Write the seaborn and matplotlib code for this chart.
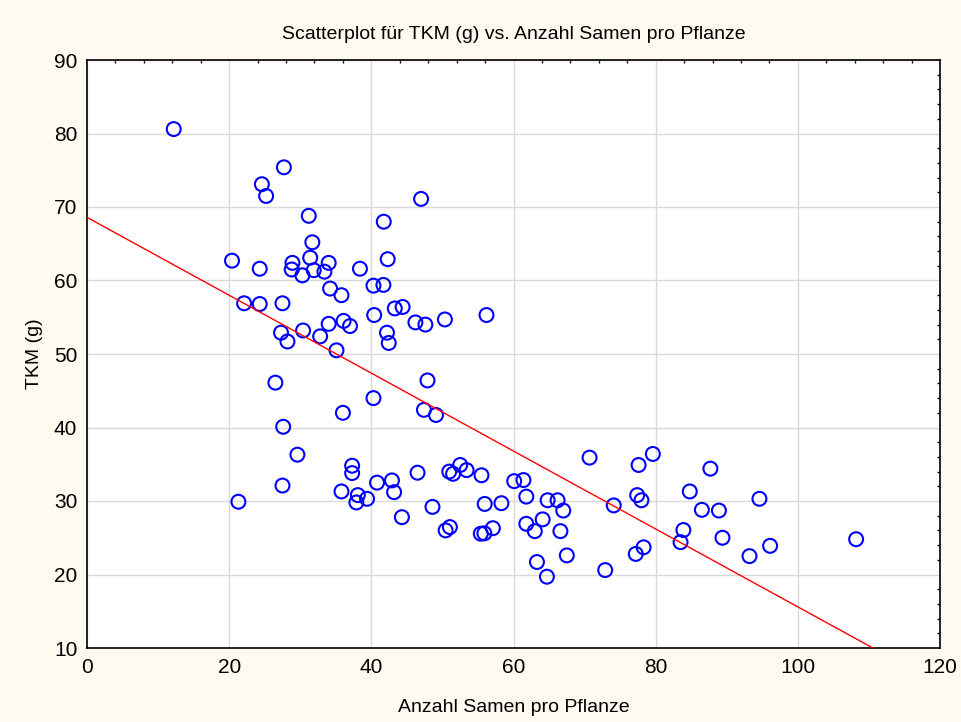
import numpy as np
import pandas as pd
import matplotlib
matplotlib.use("Agg")
import matplotlib.pyplot as plt
import seaborn as sns
from matplotlib.ticker import MultipleLocator

# Anzahl Samen pro Pflanze (x) und TKM in g (y)
samen = [12.2, 27.7, 24.6, 25.2, 31.2, 31.7, 20.4, 31.4, 24.3, 28.9,
         28.8, 30.3, 31.9, 33.4, 34.0, 34.2, 35.8, 22.1, 24.3, 27.5,
         34.0, 36.1, 37.0, 27.3, 28.2, 30.4, 32.8, 35.1, 47.0, 41.75,
         38.4, 42.3, 40.3, 41.7, 40.4, 43.3, 44.4, 46.2, 47.6, 50.35,
         56.2, 42.2, 42.45, 26.5, 40.3, 36.0, 27.6, 29.6, 37.3, 37.3,
         27.5, 40.8, 42.9, 43.2, 35.8, 38.1, 37.9, 39.4, 21.3, 44.3,
         47.9, 47.4, 49.1, 70.7, 46.5, 50.96, 51.5, 52.5, 53.4, 55.5,
         60.1, 61.4, 61.8, 55.95, 58.3, 64.8, 66.2, 67.0, 74.1, 48.6,
         50.45, 51.05, 55.4, 55.9, 57.1, 61.8, 64.1, 63.0, 66.6, 63.3,
         64.7, 67.5, 72.9, 79.6, 77.6, 87.7, 84.8, 77.4, 78.0, 94.6,
         86.5, 88.9, 83.9, 83.5, 89.4, 96.1, 108.2, 93.2, 78.3, 77.2]
tkm = [80.6, 75.4, 73.1, 71.5, 68.8, 65.2, 62.7, 63.1, 61.6, 62.4,
       61.5, 60.7, 61.4, 61.2, 62.4, 58.9, 58.0, 56.9, 56.8, 56.9,
       54.1, 54.5, 53.8, 52.9, 51.7, 53.2, 52.4, 50.5, 71.1, 68.0,
       61.6, 62.9, 59.3, 59.4, 55.3, 56.2, 56.4, 54.3, 54.0, 54.7,
       55.3, 52.9, 51.5, 46.1, 44.0, 42.0, 40.1, 36.3, 34.8, 33.8,
       32.1, 32.5, 32.8, 31.2, 31.3, 30.8, 29.8, 30.3, 29.9, 27.8,
       46.4, 42.4, 41.7, 35.9, 33.85, 34.0, 33.7, 34.9, 34.2, 33.5,
       32.7, 32.85, 30.6, 29.6, 29.7, 30.1, 30.1, 28.7, 29.4, 29.2,
       26.0, 26.45, 25.55, 25.6, 26.3, 26.9, 27.5, 25.9, 25.9, 21.7,
       19.7, 22.6, 20.6, 36.4, 34.9, 34.4, 31.3, 30.8, 30.1, 30.3,
       28.8, 28.7, 26.05, 24.4, 25.0, 23.9, 24.8, 22.5, 23.7, 22.8]

df = pd.DataFrame({"Samen": samen, "TKM": tkm})

sns.set_style("white")
plt.rcParams["font.family"] = ["Liberation Sans", "DejaVu Sans"]
plt.rcParams["text.color"] = "black"
plt.rcParams["axes.labelcolor"] = "black"
plt.rcParams["xtick.color"] = "black"
plt.rcParams["ytick.color"] = "black"

fig = plt.figure(figsize=(9.62, 7.22), dpi=100, facecolor="#FFFAF0")
ax = fig.add_axes([87 / 962, 1 - 648 / 722, (940 - 87) / 962, (648 - 60) / 722])
ax.set_facecolor("white")

ax.set_xlim(0, 120)
ax.set_ylim(10, 90)

sns.scatterplot(data=df, x="Samen", y="TKM", ax=ax, marker="o", s=100,
                facecolors="none", edgecolor="#0000FF", linewidth=1.5, zorder=3)

# Regressionsgerade ueber die ganze x-Achse
sns.regplot(data=df, x="Samen", y="TKM", ax=ax, scatter=False, ci=None,
            truncate=False, color="red", line_kws={"linewidth": 1.0, "zorder": 4})

ax.set_xlim(0, 120)
ax.set_ylim(10, 90)
ax.xaxis.set_major_locator(MultipleLocator(20))
ax.xaxis.set_minor_locator(MultipleLocator(4))
ax.yaxis.set_major_locator(MultipleLocator(10))
ax.yaxis.set_minor_locator(MultipleLocator(2))
ax.grid(True, which="major", color="#D9D9D9", linewidth=1.0)
ax.set_axisbelow(True)
ax.tick_params(which="both", direction="in", top=True, right=True,
               length=2.5, width=1, color="black", labelsize=15, pad=7)
ax.tick_params(which="major", length=0)
for sp in ax.spines.values():
    sp.set_color("black")
    sp.set_linewidth(1.2)

ax.set_title("Scatterplot für TKM (g) vs. Anzahl Samen pro Pflanze", fontsize=14, pad=15)
ax.set_xlabel("Anzahl Samen pro Pflanze", fontsize=14, labelpad=16)
ax.set_ylabel("TKM (g)", fontsize=14, labelpad=8)

fig.savefig("out.png", dpi=100, facecolor=fig.get_facecolor())
